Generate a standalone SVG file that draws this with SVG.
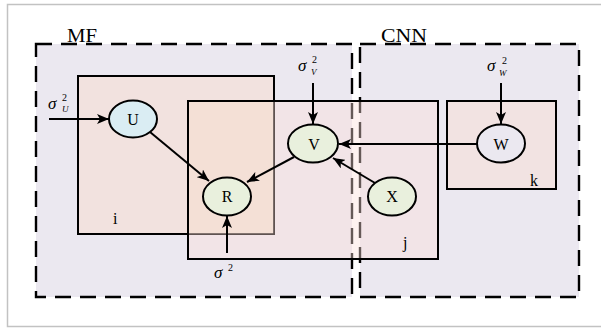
<svg xmlns="http://www.w3.org/2000/svg" width="601" height="330" viewBox="0 0 601 330">
<defs>
<style>
.frame{fill:#ffffff;stroke:#c2c2c2;stroke-width:1.5}
.group{fill:#ebe8f0;stroke:none}
.dash{fill:none;stroke:#000;stroke-width:2.4;stroke-dasharray:16 9}
.plate{stroke:#000;stroke-width:2}
.node ellipse{stroke:#000;stroke-width:2}
.lbl{font-family:"Liberation Serif","Times New Roman",serif;fill:#000}
.nl{font-size:16px;text-anchor:middle}
.sig{font-family:"Liberation Serif","Times New Roman",serif;font-style:italic;fill:#000}
.sup{font-family:"Liberation Serif","Times New Roman",serif;font-size:10px;fill:#000}
.sub{font-family:"Liberation Serif","Times New Roman",serif;font-style:italic;font-size:9px;fill:#000}
.edge{stroke:#000;stroke-width:2;fill:none;marker-end:url(#arr)}
</style>
<marker id="arr" markerUnits="userSpaceOnUse" markerWidth="13" markerHeight="10" refX="12" refY="5" orient="auto">
<path d="M0,0 L12,5 L0,10 L3,5 z" fill="#000"/>
</marker>
</defs>
<rect class="frame" x="7.5" y="4.5" width="600" height="322"/>
<g id="MF">
<rect class="group" x="36" y="44" width="316" height="253"/>
<rect class="dash" x="36" y="44" width="316" height="253"/>
<text class="lbl" x="67" y="42" font-size="18" textLength="30" lengthAdjust="spacingAndGlyphs">MF</text>
</g>
<g id="CNN">
<rect class="group" x="360" y="44" width="219" height="253"/>
<rect class="dash" x="360" y="44" width="219" height="253"/>
<text class="lbl" x="381" y="42" font-size="18" textLength="46" lengthAdjust="spacingAndGlyphs">CNN</text>
</g>
<g id="plate-i">
<rect class="plate" x="78" y="76" width="196" height="158" fill="#f2e2df"/>
<text class="lbl" x="113" y="224" font-size="16">i</text>
</g>
<g id="plate-j">
<rect x="188" y="101" width="250" height="158" fill="rgb(252,222,218)" fill-opacity="0.4"/>
<rect x="188" y="101" width="86" height="133" fill="#f4e0d6"/>
<path d="M274,101 V234 H188" fill="none" stroke="#5e5250" stroke-width="1.6"/>
<rect class="plate" x="188" y="101" width="250" height="158" fill="none"/>
<text class="lbl" x="403" y="248" font-size="16">j</text>
</g>
<g id="plate-k">
<rect class="plate" x="447" y="101" width="109" height="88" fill="#f2e3e2"/>
<text class="lbl" x="530" y="186" font-size="16">k</text>
</g>
<g id="connectors">
<line class="edge" x1="49" y1="119" x2="109" y2="119"/>
<line class="edge" x1="150" y1="132" x2="209" y2="181"/>
<line class="edge" x1="294" y1="157" x2="247" y2="182"/>
<line class="edge" x1="313" y1="83" x2="313" y2="124"/>
<line class="edge" x1="477" y1="144" x2="339" y2="144"/>
<line class="edge" x1="375" y1="183" x2="333" y2="158"/>
<line class="edge" x1="501" y1="83" x2="501" y2="124"/>
<line class="edge" x1="227" y1="253" x2="227" y2="216"/>
</g>
<g id="node-U" class="node">
<ellipse cx="133" cy="119" rx="24" ry="18.5" fill="#daedf3"/>
<text class="lbl nl" x="133" y="125">U</text>
</g>
<g id="node-R" class="node">
<ellipse cx="227" cy="196.5" rx="24" ry="19" fill="#e9f0dd"/>
<text class="lbl nl" x="227" y="202">R</text>
</g>
<g id="node-V" class="node">
<ellipse cx="313" cy="143.5" rx="25" ry="19" fill="#e9f0dd"/>
<text class="lbl nl" x="314" y="150">V</text>
</g>
<g id="node-X" class="node">
<ellipse cx="392" cy="196.5" rx="24" ry="19" fill="#e9f0dd"/>
<text class="lbl nl" x="392" y="202">X</text>
</g>
<g id="node-W" class="node">
<ellipse cx="501" cy="143.5" rx="24" ry="19" fill="#ebe8f0"/>
<text class="lbl nl" x="501" y="150">W</text>
</g>
<g id="sigma-U">
<text class="sig" x="48" y="109" font-size="17">σ</text>
<text class="sup" x="62" y="101">2</text>
<text class="sub" x="62" y="112">U</text>
</g>
<g id="sigma-V">
<text class="sig" x="298" y="71" font-size="17">σ</text>
<text class="sup" x="312" y="63">2</text>
<text class="sub" x="311" y="75">V</text>
</g>
<g id="sigma-W">
<text class="sig" x="487" y="71" font-size="17">σ</text>
<text class="sup" x="502" y="64">2</text>
<text class="sub" x="499" y="76">W</text>
</g>
<g id="sigma">
<text class="sig" x="214" y="278" font-size="17">σ</text>
<text class="sup" x="228" y="271">2</text>
</g>
</svg>
